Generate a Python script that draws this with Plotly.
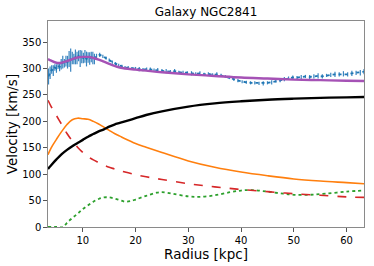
import plotly.graph_objects as go

# Observed rotation curve
r_obs = [3.5, 3.8, 4.1, 4.4, 4.7, 5.0, 5.3, 5.6, 5.9, 6.2, 6.5, 6.8, 7.1, 7.4, 7.7, 8.0, 8.3, 8.6, 8.9, 9.2,
         9.5, 9.8, 10.1, 10.4, 10.7, 11.0, 11.3, 11.6, 11.9, 12.2, 12.6, 13.2, 13.8, 14.4, 15.0, 15.6, 16.2,
         16.8, 17.4, 18.0, 18.6, 19.3, 20.0, 20.7, 21.4, 22.1, 22.8, 23.5, 24.2, 25.0, 25.8, 26.6, 27.4,
         28.2, 29.0, 29.8, 30.6, 31.4, 32.2, 33.0, 33.8, 34.6, 35.4, 36.2, 37.0, 37.8, 38.6, 39.4, 40.2,
         41.0, 41.8, 42.6, 43.4, 44.2, 45.0, 45.8, 46.6, 47.4, 48.2, 49.0, 49.8, 50.6, 51.4, 52.2, 53.0,
         53.8, 54.6, 55.4, 56.2, 57.0, 57.8, 58.6, 59.4, 60.2, 61.0, 61.8, 62.6, 63.3]
v_obs = [285, 292, 298, 296, 302, 300, 305, 303, 308, 312, 310, 314, 312, 318, 316, 320, 318, 322, 320, 324,
         319, 322, 320, 323, 318, 321, 319, 322, 320, 318, 324, 326, 323, 320, 316, 312, 309,
         306, 304, 302, 301, 300, 300, 299, 298, 299, 298, 297, 297, 296, 295, 294, 295,
         293, 292, 292, 291, 290, 291, 289, 290, 288, 289, 287, 285, 283, 280, 277, 275,
         274, 273, 273, 272, 272, 273, 274, 276, 278, 280, 282, 283, 283, 284, 285, 284,
         285, 286, 285, 287, 288, 289, 289, 290, 289, 291, 292, 292, 294]
e_obs = [15, 12, 8, 10, 6, 8, 6, 8, 10, 12, 8, 10, 12, 15, 22, 12, 10, 14, 12, 10,
         16, 12, 10, 12, 14, 10, 12, 10, 12, 10, 4, 4, 3, 3, 3, 3, 3,
         3, 3, 3, 4, 3, 3, 4, 3, 3, 4, 3, 4, 3, 4, 3, 4,
         3, 4, 3, 4, 3, 4, 3, 3, 3, 4, 3, 3, 3, 3, 3, 3,
         3, 3, 3, 3, 4, 3, 4, 3, 4, 4, 3, 4, 3, 4, 3, 4,
         4, 5, 4, 3, 4, 5, 4, 5, 4, 5, 4, 5, 5]

# Model components
r_mod = [3.4, 4, 5, 6, 7, 8, 9, 10, 11, 12, 13, 14, 15, 16, 17, 18, 20, 22, 25, 30, 35, 40, 45, 50, 55, 60, 63.3]
v_total = [318, 315, 311, 311, 314, 318, 321, 322, 322, 320, 317, 313, 309, 305, 302, 300, 298, 296, 293, 289,
           286, 283, 281, 279, 278, 277, 276.5]
v_halo = [110, 117, 128, 138, 146, 153, 159, 165, 171, 176, 181, 185, 190, 194, 197, 200, 206, 212, 219, 228,
          234, 238, 241, 243, 244.5, 245.5, 246]
v_disk = [137, 150, 166, 181, 194, 203, 206, 205, 204, 200, 195, 189, 183, 177, 172, 167, 158, 151, 141, 125,
          113, 104, 97, 91, 87, 84, 82]
v_bulge = [240, 228, 211, 194, 177, 163, 151, 141, 133, 127, 122, 117, 113, 110, 107, 104, 99, 95, 90, 82,
           76, 71, 67, 63, 60, 57, 56]

r_gas = [3.4, 5, 6.3, 7, 8, 9, 10, 11, 12, 13, 14, 15, 16, 17, 18, 19, 20, 22, 24, 25, 27, 30, 32, 35, 38, 40,
         42, 45, 48, 50, 53, 56, 60, 63.3]
v_gas = [0, 0, 0, 8, 17, 25, 34, 41, 48, 53, 56, 56, 54, 51, 48, 49, 52, 59, 65, 66, 63, 58, 57, 60, 66, 69,
         70, 67, 63, 61, 61, 63, 67, 69]

fig = go.Figure()
fig.add_trace(go.Scatter(x=r_gas, y=v_gas, mode="lines", line=dict(color="#2ca02c", width=1.8, dash="dot"),
                         line_shape="spline"))
fig.add_trace(go.Scatter(x=r_mod, y=v_bulge, mode="lines", line=dict(color="#d62728", width=1.6, dash="dash"),
                         line_shape="spline"))
fig.add_trace(go.Scatter(x=r_mod, y=v_disk, mode="lines", line=dict(color="#ff7f0e", width=1.6),
                         line_shape="spline"))
fig.add_trace(go.Scatter(x=r_mod, y=v_halo, mode="lines", line=dict(color="black", width=2.4),
                         line_shape="spline"))
fig.add_trace(go.Scatter(x=r_obs, y=v_obs, mode="lines", line=dict(color="#1f77b4", width=1.8, dash="dot"),
                         error_y=dict(type="data", array=e_obs, color="#3a85c0", thickness=1.2, width=0)))
fig.add_trace(go.Scatter(x=r_mod, y=v_total, mode="lines", line=dict(color="#a552b5", width=2.4),
                         line_shape="spline"))

axis_common = dict(showline=True, linecolor="#8a8a8a", linewidth=1.3, mirror=True, ticks="outside",
                   ticklen=3.5, tickcolor="#555555", tickwidth=1, showgrid=False, zeroline=False,
                   automargin=False,
                   tickfont=dict(family="DejaVu Sans", size=10, color="black"))

fig.update_layout(
    width=374, height=266,
    margin=dict(l=48, r=10, t=21, b=39),
    plot_bgcolor="white", paper_bgcolor="white",
    showlegend=False,
    title=dict(text="Galaxy NGC2841", x=0.551, xanchor="center", yref="container", y=0.955, yanchor="middle",
               automargin=False,
               font=dict(family="DejaVu Sans", size=12, color="black")),
    xaxis=dict(range=[3.4, 63.3], tickvals=[10, 20, 30, 40, 50, 60],
               title=dict(text="Radius [kpc]", font=dict(family="DejaVu Sans", size=13.5, color="black"),
                          standoff=2),
               **axis_common),
    yaxis=dict(range=[0, 390], tickvals=[0, 50, 100, 150, 200, 250, 300, 350],
               title=dict(text="Velocity [km/s]", font=dict(family="DejaVu Sans", size=13.5, color="black"),
                          standoff=1),
               **axis_common),
)

fig.write_html("out.html", config={"displayModeBar": False},
               post_script="document.body.style.margin='0px';")
